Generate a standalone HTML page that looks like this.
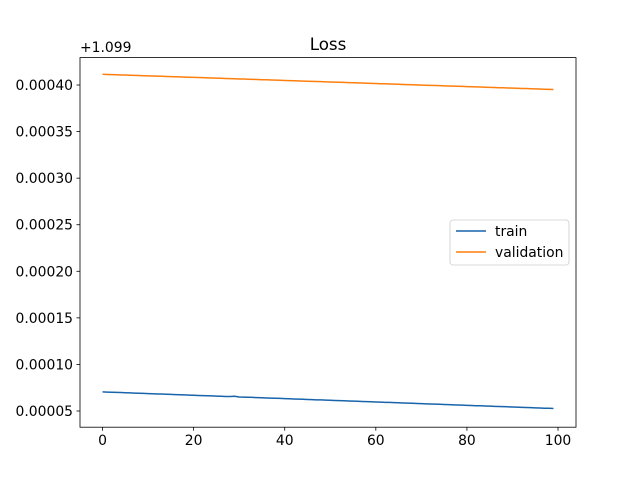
<!DOCTYPE html>
<html><head><meta charset="utf-8"><style>
html,body{margin:0;padding:0;background:#fff;}
svg text{font-family:"DejaVu Sans","Liberation Sans",sans-serif;fill:#000;}
</style></head><body>
<svg id="chart" width="640" height="480" xmlns="http://www.w3.org/2000/svg">
<rect width="640" height="480" fill="#fff"/>
<text x="328" y="50" font-size="16.7" text-anchor="middle">Loss</text>
<text x="80" y="52" font-size="13.9">+1.099</text>
<g id="plot"></g>
<rect x="80" y="57.6" width="496" height="369.6" fill="none" stroke="#000" stroke-width="0.8"/>
<g>
<rect x="450" y="220" width="119" height="45" rx="3" fill="#fff" fill-opacity="0.8" stroke="#ccc" stroke-width="0.8"/>
<line x1="456" y1="231" x2="486" y2="231" stroke="#1764ab" stroke-width="1.5"/>
<text x="495" y="236" font-size="13.9">train</text>
<line x1="456" y1="252" x2="486" y2="252" stroke="#ff7f0e" stroke-width="1.5"/>
<text x="495" y="257" font-size="13.9">validation</text>
</g>
</svg>
<script>
// values are offsets from 1.099, in units of 1e-6
const trainLoss = [70.5,70.3,70.1,70.0,69.8,69.6,69.4,69.2,69.1,68.9,
68.7,68.5,68.3,68.2,68.0,67.8,67.6,67.4,67.3,67.1,
66.9,66.7,66.5,66.4,66.2,66.0,65.8,65.6,65.5,65.8,
65.1,64.9,64.7,64.6,64.4,64.2,64.0,63.8,63.7,63.5,
63.3,63.1,62.9,62.8,62.6,62.4,62.2,62.0,61.9,61.7,
61.5,61.3,61.1,61.0,60.8,60.6,60.4,60.2,60.1,59.9,
59.7,59.5,59.3,59.2,59.0,58.8,58.6,58.4,58.3,58.1,
57.9,57.7,57.5,57.4,57.2,57.0,56.8,56.6,56.5,56.3,
56.1,55.9,55.7,55.6,55.4,55.2,55.0,54.8,54.7,54.5,
54.3,54.1,53.9,53.8,53.6,53.4,53.2,53.0,52.9,52.7];
const validationLoss = [411.5,411.3,411.2,411.0,410.8,410.7,410.5,410.3,410.2,410.0,
409.8,409.7,409.5,409.4,409.2,409.0,408.9,408.7,408.5,408.4,
408.2,408.0,407.9,407.7,407.5,407.4,407.2,407.0,406.9,406.7,
406.5,406.4,406.2,406.1,405.9,405.7,405.6,405.4,405.2,405.1,
404.9,404.7,404.6,404.4,404.2,404.1,403.9,403.7,403.6,403.4,
403.2,403.1,402.9,402.8,402.6,402.4,402.3,402.1,401.9,401.8,
401.6,401.4,401.3,401.1,400.9,400.8,400.6,400.4,400.3,400.1,
399.9,399.8,399.6,399.5,399.3,399.1,399.0,398.8,398.6,398.5,
398.3,398.1,398.0,397.8,397.6,397.5,397.3,397.1,397.0,396.8,
396.6,396.5,396.3,396.2,396.0,395.8,395.7,395.5,395.3,395.2];
const xTicks = [0,20,40,60,80,100];
const yTicks = [50,100,150,200,250,300,350,400];
const yTickLabels = ["0.00005","0.00010","0.00015","0.00020","0.00025","0.00030","0.00035","0.00040"];

const NS = "http://www.w3.org/2000/svg";
const plot = document.getElementById("plot");
const xs = v => 80 + (v + 4.95) / 108.9 * 496;
const ys = v => 411 - (v - 50) / 50 * 46.57;
function mk(tag, attrs){const e=document.createElementNS(NS,tag);for(const k in attrs)e.setAttribute(k,attrs[k]);plot.appendChild(e);return e;}

xTicks.forEach(t=>{
  const l = mk("line",{x1:xs(t),x2:xs(t),y1:427.2,y2:430.7,stroke:"#000","stroke-width":0.8});
  
  
  const tx = mk("text",{x:xs(t),y:445,"font-size":13.9,"text-anchor":"middle"});
  tx.textContent = t;
  
  
});
yTicks.forEach((t,i)=>{
  const l = mk("line",{x1:76.5,x2:80,y1:ys(t),y2:ys(t),stroke:"#000","stroke-width":0.8});
  
  
  const tx = mk("text",{x:73,y:ys(t)+5,"font-size":13.9,"text-anchor":"end"});
  tx.textContent = yTickLabels[i];
  
  
});
function line(arr,color,name){
  const d = arr.map((v,i)=>(i?"L":"M")+xs(i).toFixed(2)+","+ys(v).toFixed(2)).join("");
  const p = mk("path",{d:d,fill:"none",stroke:color,"stroke-width":1.5});
  
  
}
line(trainLoss,"#1764ab","train-line");
line(validationLoss,"#ff7f0e","validation-line");
</script>
</body></html>
